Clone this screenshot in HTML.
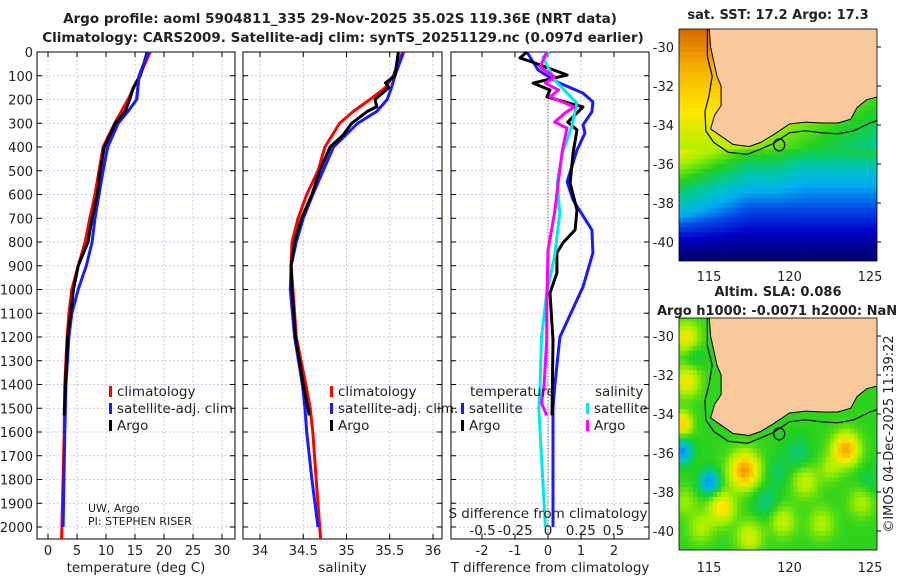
<!DOCTYPE html>
<html><head><meta charset="utf-8">
<style>
body{margin:0;background:#fff;}
svg text{font-family:"DejaVu Sans","Liberation Sans",sans-serif;fill:#222;}
</style></head>
<body>
<svg id="fig" width="900" height="580" viewBox="0 0 900 580" xmlns="http://www.w3.org/2000/svg">
<text x="340" y="23" text-anchor="middle" font-size="13.5" font-weight="bold">Argo profile: aoml 5904811_335 29-Nov-2025 35.02S 119.36E (NRT data)</text>
<text x="343" y="42" text-anchor="middle" font-size="13.5" font-weight="bold">Climatology: CARS2009. Satellite-adj clim: synTS_20251129.nc (0.097d earlier)</text>
<g id="panels"></g>
<g id="maps"></g>
<text x="778" y="19" text-anchor="middle" font-size="13" font-weight="bold">sat. SST: 17.2 Argo: 17.3</text>
<text x="778" y="296" text-anchor="middle" font-size="13" font-weight="bold">Altim. SLA: 0.086</text>
<text x="657" y="315" font-size="13" font-weight="bold">Argo h1000: -0.0071 h2000: NaN</text>
<text transform="translate(893,434) rotate(-90)" text-anchor="middle" font-size="13">©IMOS 04-Dec-2025 11:39:22</text>
</svg>
<script>
// ---------- data ----------
const depthTicks=[0,100,200,300,400,500,600,700,800,900,1000,1100,1200,1300,1400,1500,1600,1700,1800,1900,2000];
const tTicks=[0,5,10,15,20,25,30];
const sTicks=[34,34.5,35,35.5,36];
const sTickLabels=["34","34.5","35","35.5","36"];
const dTTicks=[-2,-1,0,1,2];
const dSTicks=[-0.5,-0.25,0,0.25,0.5];
const dSTickLabels=["-0.5","-0.25","0","0.25","0.5"];

const tClimDepth=[0,100,200,300,400,500,600,700,800,900,1000,1100,1200,1400,1600,2000,2050];
const tClim=[17.6,15.8,13.8,11.5,9.5,8.8,8.1,7.2,6.4,5.2,4.1,3.6,3.3,2.9,2.8,2.4,2.35];
const tSatDepth=[0,100,200,250,300,400,500,600,700,800,900,1000,1100,1200,1400,1600,2000];
const tSat=[17.3,15.7,15.3,13.8,12.1,10.3,9.5,8.8,8.1,7.6,6.6,5.2,4.1,3.6,3.1,2.9,2.6];
const tArgoDepth=[0,100,150,200,250,300,400,500,600,700,800,900,1000,1200,1400,1530];
const tArgo=[17.1,15.9,14.7,14.1,13.3,11.6,9.7,9.0,8.5,7.6,6.9,5.2,4.4,3.4,3.0,2.8];

const sClimDepth=[0,100,150,200,250,300,400,500,600,700,800,900,1000,1200,1400,1500,1600,1800,2000,2050];
const sClim=[35.65,35.54,35.45,35.27,35.08,34.92,34.75,34.67,34.54,34.44,34.37,34.36,34.38,34.42,34.53,34.58,34.61,34.65,34.69,34.70];
const sSatDepth=[0,100,150,200,250,300,400,500,600,700,800,900,1000,1200,1400,1500,1600,1800,2000];
const sSat=[35.66,35.56,35.52,35.47,35.35,35.13,34.85,34.73,34.61,34.5,34.42,34.36,34.35,34.4,34.49,34.52,34.54,34.6,34.67];
const sArgoDepth=[0,100,130,150,200,230,250,300,350,400,500,600,700,800,900,1000,1200,1400,1530];
const sArgo=[35.6,35.56,35.45,35.49,35.33,35.35,35.24,35.06,34.96,34.81,34.69,34.6,34.48,34.4,34.36,34.37,34.41,34.5,34.57];

const dTSatDepth=[0,76,126,173,210,252,307,341,413,547,623,749,846,989,1200,1400,1500,2000];
const dTSat=[-0.64,-0.3,0.27,1.06,1.36,1.33,1.06,1.12,0.88,0.58,0.76,1.33,1.36,1.06,0.36,0.21,0.15,0.15];
const dTArgoDepth=[0,25,42,97,131,160,189,231,295,328,425,552,665,749,804,846,930,1015,1213,1530];
const dTArgo=[-0.64,-0.85,-0.48,0.58,-0.45,0.06,-0.03,1.06,0.6,0.88,0.76,0.67,0.88,0.82,0.45,0.27,0.27,0.06,0.15,0.12];
const dSArgoDepth=[0,63,105,131,160,189,231,257,295,320,413,539,678,834,1074,1213,1400,1478,1530];
const dSArgo=[-0.01,-0.06,0.05,-0.02,0.08,0.015,0.2,0.13,0.05,0.145,0.11,0.08,0.05,0.0,-0.01,-0.01,-0.03,-0.05,-0.01];
const dSSatDepth=[0,21,118,215,316,425,552,678,863,1015,1200,1400,1500,2000];
const dSSat=[0.015,-0.04,0.05,0.22,0.18,0.11,0.07,0.09,0.05,-0.01,-0.05,-0.06,-0.07,-0.02];

// ---------- helpers ----------
const NS="http://www.w3.org/2000/svg";
function mk(tag,attrs,parent){const e=document.createElementNS(NS,tag);for(const k in attrs)e.setAttribute(k,attrs[k]);parent.appendChild(e);return e;}
const top0=52,bot0=539;
function yD(d){return top0+d*0.2375;}
const P=document.getElementById('panels');

function panel(name,x0,x1,xs,ticks,labels,xlabel,showY){
  const g=mk('g',{},P);
  
  
  depthTicks.forEach(d=>{const l=mk('line',{x1:x0,x2:x1,y1:yD(d),y2:yD(d),stroke:'#c9c9f0','stroke-width':1,'stroke-dasharray':'2,2'},g);
    });
  ticks.forEach(t=>{const l=mk('line',{x1:xs(t),x2:xs(t),y1:top0,y2:bot0,stroke:'#c9c9f0','stroke-width':1,'stroke-dasharray':'2,2'},g);
    });
  const r=mk('rect',{x:x0,y:top0,width:x1-x0,height:bot0-top0,fill:'none',stroke:'#000','stroke-width':1},g);
  
  depthTicks.forEach(d=>{
    mk('line',{x1:x0,x2:x0+5,y1:yD(d),y2:yD(d),stroke:'#000'},g);
    mk('line',{x1:x1-5,x2:x1,y1:yD(d),y2:yD(d),stroke:'#000'},g);
    if(showY){const t=mk('text',{x:x0-4,y:yD(d)+5,'text-anchor':'end','font-size':13},g);t.textContent=d;
      }
  });
  ticks.forEach((v,i)=>{
    mk('line',{x1:xs(v),x2:xs(v),y1:bot0,y2:bot0-5,stroke:'#000'},g);
    mk('line',{x1:xs(v),x2:xs(v),y1:top0,y2:top0+5,stroke:'#000'},g);
    const t=mk('text',{x:xs(v),y:555,'text-anchor':'middle','font-size':13},g);t.textContent=labels[i];
    
  });
  const xl=mk('text',{x:(x0+x1)/2,y:572,'text-anchor':'middle','font-size':13.5},g);xl.textContent=xlabel;
  
  return g;
}
function series(g,name,depths,vals,xs,color,w){
  const pts=depths.map((d,i)=>xs(vals[i]).toFixed(1)+','+yD(d).toFixed(1)).join(' ');
  const pl=mk('polyline',{points:pts,fill:'none',stroke:color,'stroke-width':w||3,'stroke-linejoin':'round'},g);
  
  
}
function legendItem(g,name,x,y,color,label){
  if(color){mk('rect',{x:x,y:y-10,width:3,height:11,fill:color},g);}
  const t=mk('text',{x:x+8,y:y,'font-size':13.5},g);t.textContent=label;
  
}

const xT=v=>48+v*5.8;
const g1=panel('temperature-panel',37,235,xT,tTicks,tTicks.map(String),'temperature (deg C)',true);
series(g1,'temp-climatology-line',tClimDepth,tClim,xT,'#f00');
series(g1,'temp-satellite-line',tSatDepth,tSat,xT,'#1a1aff');
series(g1,'temp-argo-line',tArgoDepth,tArgo,xT,'#000');
series(g1,'temp-satellite-line-top',tSatDepth.slice(0,3),tSat.slice(0,3),xT,'#1a1aff');
legendItem(g1,'legend-climatology',109,396,'#f00','climatology');
legendItem(g1,'legend-satellite-adj',109,413,'#1a1aff','satellite-adj. clim.');
legendItem(g1,'legend-argo',109,430,'#000','Argo');
let tx=mk('text',{x:88,y:512,'font-size':11},g1);tx.textContent='UW, Argo';

tx=mk('text',{x:88,y:525,'font-size':11},g1);tx.textContent='PI: STEPHEN RISER';


const xS=v=>260+(v-34)*86.5;
const g2=panel('salinity-panel',243,442,xS,sTicks,sTickLabels,'salinity',false);
series(g2,'sal-climatology-line',sClimDepth,sClim,xS,'#f00');
series(g2,'sal-satellite-line',sSatDepth,sSat,xS,'#1a1aff');
series(g2,'sal-argo-line',sArgoDepth,sArgo,xS,'#000');
legendItem(g2,'legend-climatology-sal',330,396,'#f00','climatology');
legendItem(g2,'legend-satellite-adj-sal',330,413,'#1a1aff','satellite-adj. clim.');
legendItem(g2,'legend-argo-sal',330,430,'#000','Argo');

const xdT=v=>548+v*33;
const xdS=v=>548+v*131;
const g3=panel('difference-panel',451,649,xdT,dTTicks,dTTicks.map(String),'T difference from climatology',false);
const zl=mk('line',{x1:548,x2:548,y1:yD(140),y2:bot0,stroke:'#444','stroke-width':1,'stroke-dasharray':'1,2'},g3);

series(g3,'dT-satellite-line',dTSatDepth,dTSat,xdT,'#1a1aff');
series(g3,'dT-argo-line',dTArgoDepth,dTArgo,xdT,'#000');
series(g3,'dS-satellite-line',dSSatDepth,dSSat,xdS,'#00e8e8');
series(g3,'dS-argo-line',dSArgoDepth,dSArgo,xdS,'#f0f');
legendItem(g3,'legend-temperature-header',462,396,null,'temperature');
legendItem(g3,'legend-t-satellite',461,413,'#1a1aff','satellite');
legendItem(g3,'legend-t-argo',461,430,'#000','Argo');
legendItem(g3,'legend-salinity-header',587,396,null,'salinity');
legendItem(g3,'legend-s-satellite',586,413,'#00e8e8','satellite');
legendItem(g3,'legend-s-argo',586,430,'#f0f','Argo');
tx=mk('text',{x:548,y:518,'text-anchor':'middle','font-size':13.5},g3);tx.textContent='S difference from climatology';

dSTicks.forEach((v,i)=>{const t=mk('text',{x:xdS(v),y:535,'text-anchor':'middle','font-size':13.5},g3);t.textContent=dSTickLabels[i];
  });

// ---------- maps ----------
const M=document.getElementById('maps');
const land=[[115.0,-28.9],[115.1,-30],[115.5,-31.5],[115.75,-32],[115.75,-33],[115.35,-33.5],[115.1,-34.2],[115.8,-34.6],[116.5,-35.0],[117.5,-35.1],[118.2,-34.9],[119,-34.5],[120,-33.95],[121,-33.85],[122,-33.9],[123,-33.9],[123.8,-33.7],[124.2,-33.1],[124.8,-32.7],[125.7,-32.5],[125.7,-28.9]];
const shelf=[[114.9,-29],[114.9,-30.5],[115.2,-31.5],[115.0,-32.5],[114.75,-33.3],[114.8,-34.3],[115.3,-34.9],[116.2,-35.4],[117.4,-35.5],[118.3,-35.2],[119,-34.95],[120,-34.4],[121,-34.3],[122,-34.4],[123,-34.45],[124,-34.3],[125,-33.9],[125.7,-33.7]];
const slaBlobs=[[117.2,-36.9,0.9,0.32],[123.5,-35.8,0.8,0.3],[115.8,-38.8,0.8,0.2],[115,-37.5,0.6,-0.25],[113.3,-35.9,0.6,-0.25],[113.6,-30.1,0.8,0.18],[113.6,-32.3,0.8,0.18],[113.3,-34.5,0.6,0.24],[118.5,-38.5,0.8,-0.08],[121,-37.5,0.8,0.12],[117.5,-40.3,0.8,0.14],[114.5,-39.8,0.8,0.1],[124.5,-38.5,0.8,0.1],[119.6,-39.5,0.8,0.12],[120.5,-36,0.8,-0.07],[122,-39.6,0.8,0.1],[125,-37.5,0.8,-0.05],[113.5,-38.5,0.7,0.08],[114,-31,0.7,-0.06],[119.2,-37,0.7,-0.06],[122.5,-36.8,0.7,0.08]];
const cmapStops=[[0,[0,0,127]],[0.12,[0,0,200]],[0.25,[0,80,232]],[0.35,[0,176,240]],[0.45,[0,200,168]],[0.55,[32,208,32]],[0.65,[168,240,0]],[0.75,[255,232,0]],[0.85,[248,176,0]],[0.95,[208,96,0]],[1,[160,64,0]]];
function cmap(v){v=Math.max(0,Math.min(1,v));for(let i=1;i<cmapStops.length;i++){if(v<=cmapStops[i][0]){const a=cmapStops[i-1],b=cmapStops[i],f=(v-a[0])/(b[0]-a[0]);return 'rgb('+a[1].map((c,k)=>Math.round(c+(b[1][k]-c)*f)).join(',')+')';}}return 'rgb(160,64,0)';}
function sstV(lon,lat){
  let v;
  if(lat>-35.3){v=0.66+0.045*(lat+35.3)-Math.max(0,lon-116)*0.022;}
  else{
    v=0.5+0.11*(lat+36);
    v+=Math.max(0,117.5-lon)*0.035*Math.max(0,Math.min(1,(lat+40.5)/2));
    v-=0.05*Math.max(0,Math.min(1,(lon-119)/2))*Math.max(0,Math.min(1,(lat+38.5)/2));
  }
  return v;
}
function slaV(lon,lat){let v=0.56;slaBlobs.forEach(b=>{const d2=((lon-b[0])**2+(lat-b[1])**2)/(b[2]*b[2]);v+=b[3]*Math.exp(-d2);});return v;}
function map(name,yTop,fn,lonTicksY){
  const x0=679,x1=877,y1=yTop+232;
  const lx=lon=>709+(lon-115)*16.1;
  const ly=lat=>yTop+18+(-30-lat)*19.5;
  const g=mk('g',{},M);
  
  
  const cid='clip'+yTop;
  const cp=mk('clipPath',{id:cid},g);mk('rect',{x:x0,y:yTop,width:x1-x0,height:y1-yTop},cp);
  const cg=mk('g',{'clip-path':'url(#'+cid+')'},g);
  for(let lon=113;lon<126;lon+=0.25){for(let lat=-29;lat>-41.3;lat-=0.25){
    mk('rect',{x:lx(lon).toFixed(1),y:ly(lat).toFixed(1),width:4.4,height:5.3,fill:cmap(fn(lon+0.125,lat-0.125))},cg);}}
  const lp=mk('polygon',{points:land.map(p=>lx(p[0]).toFixed(1)+','+ly(p[1]).toFixed(1)).join(' '),fill:'#f9c99c',stroke:'#000','stroke-width':1},cg);
  
  const sl=mk('polyline',{points:shelf.map(p=>lx(p[0]).toFixed(1)+','+ly(p[1]).toFixed(1)).join(' '),fill:'none',stroke:'#000','stroke-width':1.2},cg);
  
  const c=mk('ellipse',{cx:lx(119.36),cy:ly(-35.02),rx:5.5,ry:6,fill:'none',stroke:'#000','stroke-width':1.2},cg);
  
  mk('rect',{x:x0,y:yTop,width:x1-x0,height:y1-yTop,fill:'none',stroke:'#000','stroke-width':0.8},g);
  [-30,-32,-34,-36,-38,-40].forEach(lat=>{
    mk('line',{x1:x1,x2:x1+4,y1:ly(lat),y2:ly(lat),stroke:'#000'},g);
    const t=mk('text',{x:x0-5,y:ly(lat)+5,'text-anchor':'end','font-size':13},g);t.textContent=lat;
    });
  [115,120,125].forEach(lon=>{const t=mk('text',{x:lx(lon),y:lonTicksY,'text-anchor':'middle','font-size':13},g);t.textContent=lon;
    });
}
map('sst-map',29,sstV,281);
map('sla-map',318,slaV,572);
</script>
</body></html>
